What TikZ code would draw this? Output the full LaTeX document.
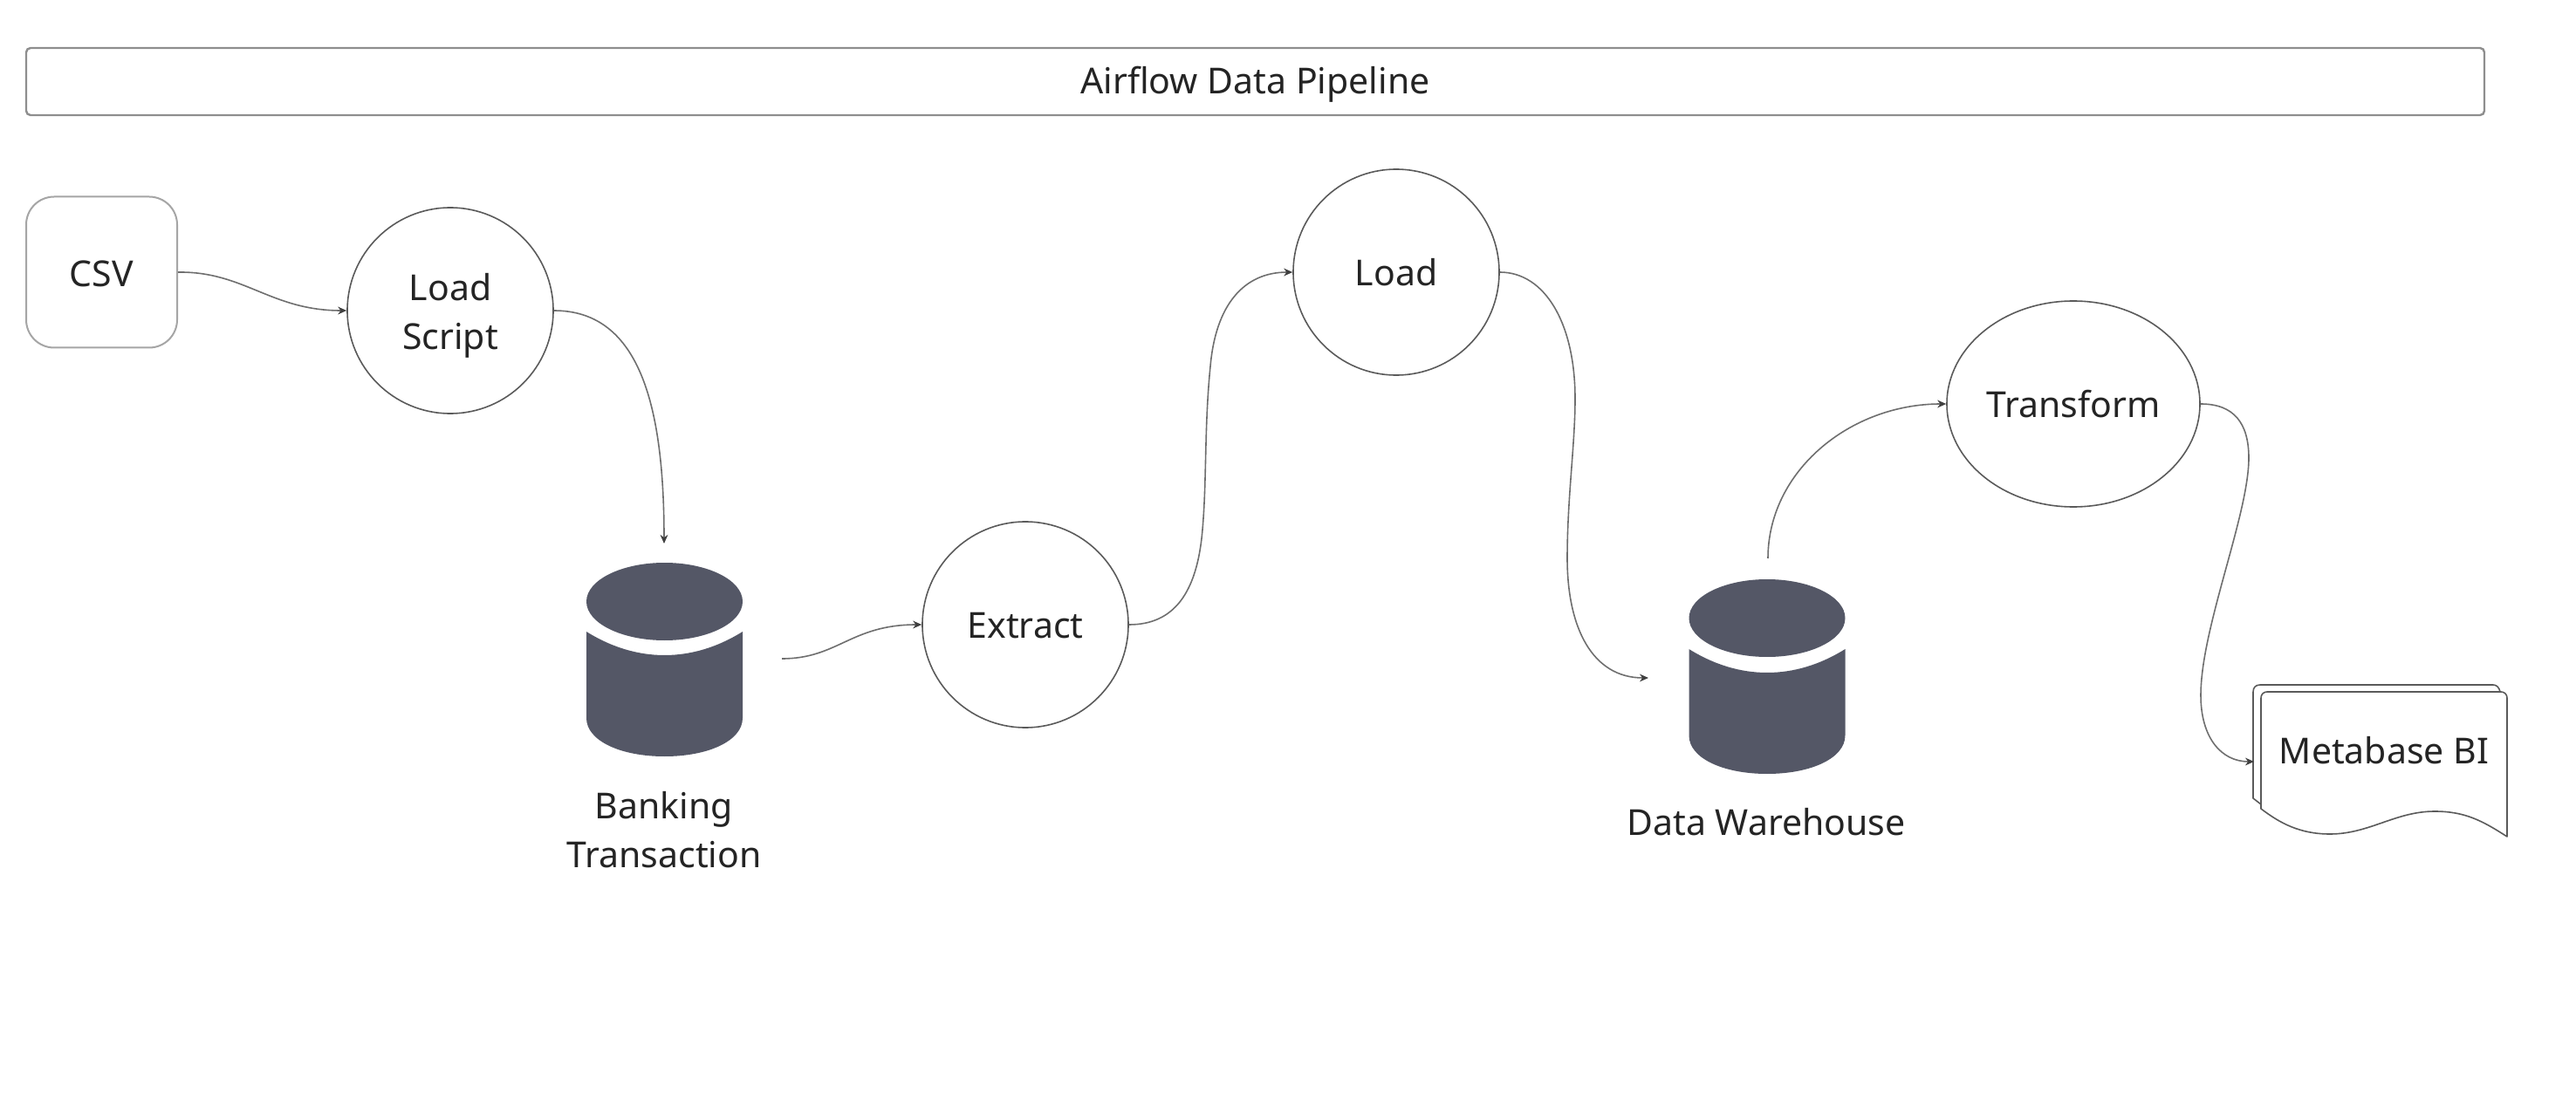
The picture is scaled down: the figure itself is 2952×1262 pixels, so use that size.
\documentclass[tikz,border=0pt]{standalone}
\usepackage{fontspec}
\setmainfont{Noto Sans}
\usetikzlibrary{shapes.geometric,arrows.meta}
\definecolor{inkc}{HTML}{242424}
\definecolor{dbfill}{HTML}{545766}
\definecolor{linec}{HTML}{5A5A5A}
\definecolor{flowc}{HTML}{6E6E6E}
\definecolor{boxc}{HTML}{8E8E8E}
\tikzset{
  lbl/.style={text=inkc,font=\fontsize{20.5}{28}\selectfont,align=center,inner sep=0pt},
  circ/.style={lbl,draw=linec,line width=0.8pt,ellipse,minimum width=236*0.5pt,minimum height=236*0.5pt},
  flow/.style={draw=flowc,line width=0.8pt,-{Stealth[length=5pt,width=4.4pt,color=linec!70!black]}},
  dbshape/.style={fill=dbfill,draw=none},
  docline/.style={draw=linec,line width=0.8pt,line join=round,fill=white}
}
\begin{document}
\begin{tikzpicture}[x=0.5pt,y=-0.5pt]
\useasboundingbox (0,0) rectangle (2952,1262);
% title
\node[lbl,draw=boxc,line width=1.2pt,rounded corners=2.5pt,minimum width=2817*0.5pt,minimum height=77*0.5pt,text height=16pt,text depth=1.5pt] (title) at (1438.5,93.5) {Airflow Data Pipeline};
% nodes
\node[lbl,draw=boxc!80,line width=1pt,rounded corners=16pt,minimum width=173*0.5pt,minimum height=173*0.5pt,text height=16.6pt,text depth=0pt] (csv) at (116.5,312) {CSV};
\node[circ] (loadscript) at (516,356) {\rule{0pt}{21pt}Load\\Script};
\node[circ,text height=15.6pt,text depth=0pt] (extract) at (1175,716) {Extract};
\node[circ] (load) at (1600,312) {Load};
\node[circ,minimum width=290*0.5pt] (transform) at (2376,463) {Transform};
% cylinders
\fill[dbshape] (761.5,689.5) ellipse [x radius=89.5,y radius=44.5];
\fill[dbshape] (672,724) .. controls (701,742) and (731,751) .. (761.5,751) .. controls (792,751) and (822,742) .. (851,724) -- (851,823) .. controls (851,849) and (812,867) .. (761.5,867) .. controls (711,867) and (672,849) .. (672,823) -- cycle;
\fill[dbshape] (2025,708.5) ellipse [x radius=89.5,y radius=44.5];
\fill[dbshape] (1935.5,744) .. controls (1964.5,762) and (1994.5,771) .. (2025,771) .. controls (2055.5,771) and (2085.5,762) .. (2114.5,744) -- (2114.5,843) .. controls (2114.5,869) and (2075.5,887) .. (2025,887) .. controls (1974.5,887) and (1935.5,869) .. (1935.5,843) -- cycle;
\node[lbl] (banking) at (761,951) {Banking\\Transaction};
\node[lbl] (warehouse) at (2024,942) {Data Warehouse};
% free connector ends
\coordinate (dbin) at (761,623);
\coordinate (dbout) at (896,755);
\coordinate (dwin) at (1889,777);
\coordinate (dwout) at (2026,640);
\coordinate (biin) at (2583,873);
% document stack
\draw[docline] (2591,922) -- (2582,915) -- (2582,793) .. controls (2582,788) and (2585,785) .. (2590,785) -- (2857,785) .. controls (2861,785) and (2864,788) .. (2865,793);
\draw[docline] (2591,927) -- (2591,800) .. controls (2591,796) and (2594,793) .. (2598,793) -- (2866,793) .. controls (2870,793) and (2873,796) .. (2873,800) -- (2873,959) .. controls (2845,941) and (2825,930) .. (2790,930) .. controls (2745,930) and (2715,956) .. (2670,956) .. controls (2635,956) and (2612,943) .. (2591,927) -- cycle;
\node[lbl] (bi) at (2732,860) {Metabase BI};
% connectors
\draw[flow] (csv.east) .. controls (280,311) and (310,356) .. (loadscript.west);
\draw[flow] (loadscript.east) .. controls (735,356) and (761,470) .. (dbin);
\draw[flow] (dbout) .. controls (960,755) and (975,716) .. (extract.west);
\draw[flow] (extract.east) .. controls (1345,716) and (1372,680) .. (1378,607) .. controls (1383,550) and (1380,490) .. (1387,420) .. controls (1393,350) and (1425,312) .. (load.west);
\draw[flow] (load.east) .. controls (1770,312) and (1805,370) .. (1805,457) .. controls (1805,510) and (1796,570) .. (1796,640) .. controls (1796,720) and (1825,777) .. (dwin);
\draw[flow] (dwout) .. controls (2026,540) and (2120,463) .. (transform.west);
\draw[flow] (transform.east) .. controls (2560,463) and (2577,485) .. (2577,525) .. controls (2577,590) and (2522,720) .. (2522,797) .. controls (2522,845) and (2545,873) .. (biin);
\end{tikzpicture}
\end{document}
